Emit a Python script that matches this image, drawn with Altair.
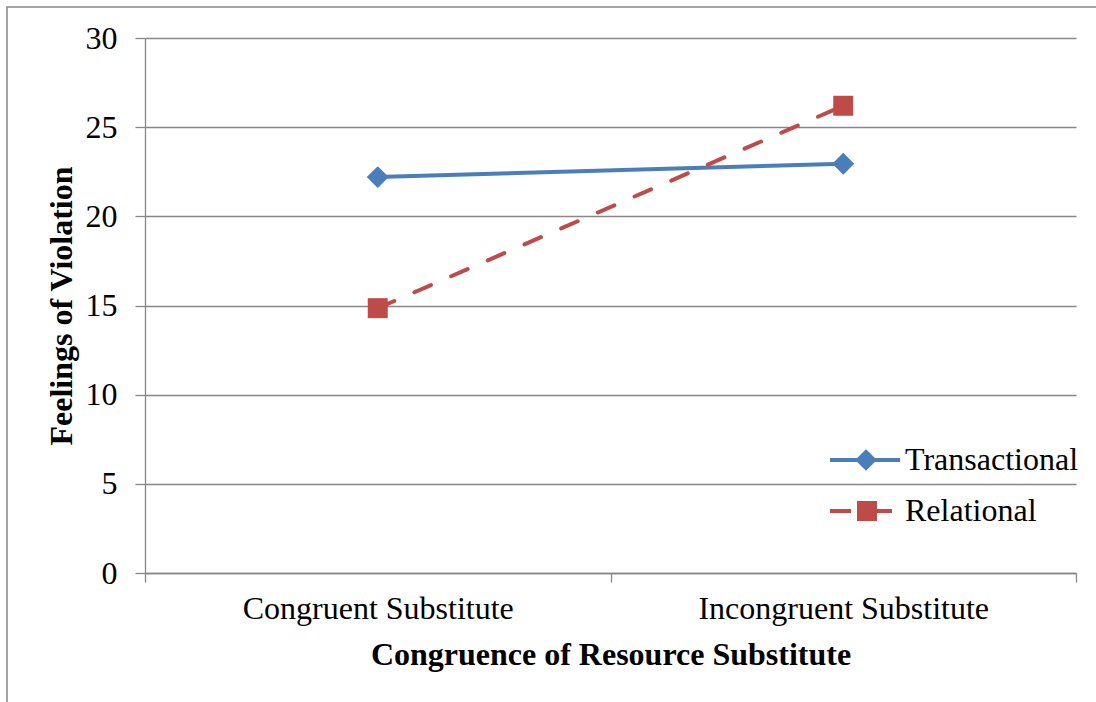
import altair as alt
import pandas as pd

# Mean feelings of violation by congruence of the resource substitute
conditions = ["Congruent Substitute", "Incongruent Substitute"]
series_names = ["Transactional", "Relational"]
transactional = [22.2, 22.95]
relational = [14.85, 26.2]

colors = ["#4a7ebb", "#be4b48"]
font = "Liberation Serif"
grey = "#878787"

rows = []
for name, vals in zip(series_names, [transactional, relational]):
    for cond, v in zip(conditions, vals):
        rows.append({"condition": cond, "series": name, "value": v})
df = pd.DataFrame(rows)

# Legend glyphs: a line segment with the series marker drawn on it
legend_paths = [
    "M-1.8,0H1M-0.36,-0.32L-0.04,0L-0.36,0.32L-0.68,0Z",
    "M-1.8,0H-0.96M0.08,0H0.68M-0.64,-0.32H0V0.32H-0.64Z",
]

x_enc = alt.X(
    "condition:N",
    sort=conditions,
    scale=alt.Scale(type="band", paddingInner=0, paddingOuter=0),
    axis=alt.Axis(
        title="Congruence of Resource Substitute",
        labelAngle=0,
        labelLimit=600,
        tickBand="extent",
        tickSize=9,
        labelPadding=11,
        titlePadding=15,
        grid=False,
    ),
)
y_enc = alt.Y(
    "value:Q",
    scale=alt.Scale(domain=[0, 30]),
    axis=alt.Axis(
        title="Feelings of Violation",
        values=[0, 5, 10, 15, 20, 25, 30],
        tickSize=10,
        labelPadding=18,
        titlePadding=7,
        grid=True,
    ),
)
color_scale = alt.Scale(domain=series_names, range=colors)


def series_legend():
    return alt.Legend(
        title=None,
        orient="none",
        legendX=703,
        legendY=395,
        padding=0,
        symbolSize=2500,
        symbolStrokeWidth=4,
        symbolOpacity=1,
        labelFont=font,
        labelFontSize=32,
        labelColor="black",
        labelOffset=3,
        labelLimit=400,
        rowPadding=8,
    )


base = alt.Chart(df)
trans = base.transform_filter(alt.datum.series == "Transactional")
rel = base.transform_filter(alt.datum.series == "Relational")

trans_line = trans.mark_line(strokeWidth=4, color=colors[0]).encode(x=x_enc, y=y_enc)
rel_line = rel.mark_line(
    strokeWidth=4, color=colors[1], strokeDash=[18, 22], strokeCap="round"
).encode(x=x_enc, y=y_enc)

diamonds = trans.mark_point(
    shape="diamond", filled=True, size=480, opacity=1, color=colors[0]
).encode(x=x_enc, y=y_enc)
squares = rel.mark_point(
    shape="square", filled=True, size=400, opacity=1, color=colors[1]
).encode(x=x_enc, y=y_enc)

# Layer with no rows of its own; it only carries the legend
legend_layer = base.transform_filter("false").mark_point(filled=True).encode(
    x=x_enc,
    y=y_enc,
    fill=alt.Fill("series:N", scale=color_scale, legend=series_legend()),
    stroke=alt.Stroke("series:N", scale=color_scale, legend=series_legend()),
    shape=alt.Shape(
        "series:N",
        scale=alt.Scale(domain=series_names, range=legend_paths),
        legend=series_legend(),
    ),
)

frame = alt.Chart(pd.DataFrame({"frame": [0]})).mark_rect(
    fillOpacity=0, stroke=grey, strokeWidth=1.5
).encode(
    x=alt.value(-138), x2=alt.value(1100), y=alt.value(-31), y2=alt.value(800)
)

chart = (
    alt.layer(frame, trans_line, rel_line, diamonds, squares, legend_layer)
    .properties(
        width=931,
        height=535,
        autosize=alt.AutoSizeParams(type="none"),
        padding={"left": 145, "top": 38, "right": 20, "bottom": 129},
        background="white",
    )
    .configure_view(strokeWidth=0)
    .configure_axis(
        labelFont=font,
        labelFontSize=32,
        labelColor="black",
        titleFont=font,
        titleFontSize=32,
        titleFontWeight="bold",
        titleColor="black",
        domainColor=grey,
        domainWidth=1.3,
        tickColor=grey,
        tickWidth=1.3,
        gridColor=grey,
        gridWidth=1.3,
    )
)

chart.save("out.html", embed_options={"renderer": "svg", "actions": False})
